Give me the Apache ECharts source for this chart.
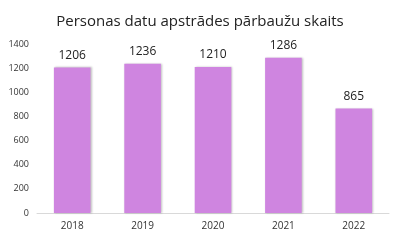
<!DOCTYPE html>
<html>
<head>
<meta charset="utf-8">
<script src="https://cdn.jsdelivr.net/npm/echarts@6/dist/echarts.min.js"></script>
<style>
  html, body { margin: 0; padding: 0; background: #fff; }
  #chart { width: 400px; height: 240px; }
</style>
</head>
<body>
<div id="chart"></div>
<script>
var years = ['2018', '2019', '2020', '2021', '2022']
var checks = [1206, 1236, 1210, 1286, 865]
var yTicks = { min: 0, max: 1400, interval: 200 }

var myChart = echarts.init(document.getElementById('chart'))
var option = {
  animation: false,
  title: {
    text: 'Personas datu apstrādes pārbaužu skaits',
    left: 'center',
    top: 9,
    textStyle: { fontFamily: 'Open Sans', fontSize: 15, fontWeight: 'normal', color: '#222' }
  },
  grid: { left: 37, right: 11, top: 44, bottom: 27 },
  xAxis: {
    type: 'category',
    data: years,
    axisLine: { lineStyle: { color: '#d9d9d9' } },
    axisTick: { show: false },
    axisLabel: { color: '#333', fontSize: 10, fontFamily: 'Open Sans', margin: 8 }
  },
  yAxis: {
    type: 'value',
    min: yTicks.min,
    max: yTicks.max,
    interval: yTicks.interval,
    splitLine: { show: false },
    axisLine: { show: false },
    axisTick: { show: false },
    axisLabel: {
      color: '#333',
      fontSize: 9,
      fontFamily: 'Open Sans',
      margin: 8,
      formatter: function (v) { return String(v) }
    }
  },
  series: [
    {
      type: 'bar',
      data: checks,
      barWidth: '52%',
      itemStyle: {
        color: '#cf85e0',
        shadowColor: 'rgba(0,0,0,0.25)',
        shadowBlur: 2,
        shadowOffsetX: 1,
        shadowOffsetY: 0
      },
      label: {
        show: true,
        position: 'top',
        distance: 6,
        color: '#222',
        fontSize: 12,
        fontFamily: 'Open Sans'
      }
    }
  ]
}
myChart.setOption(option)
</script>
</body>
</html>
